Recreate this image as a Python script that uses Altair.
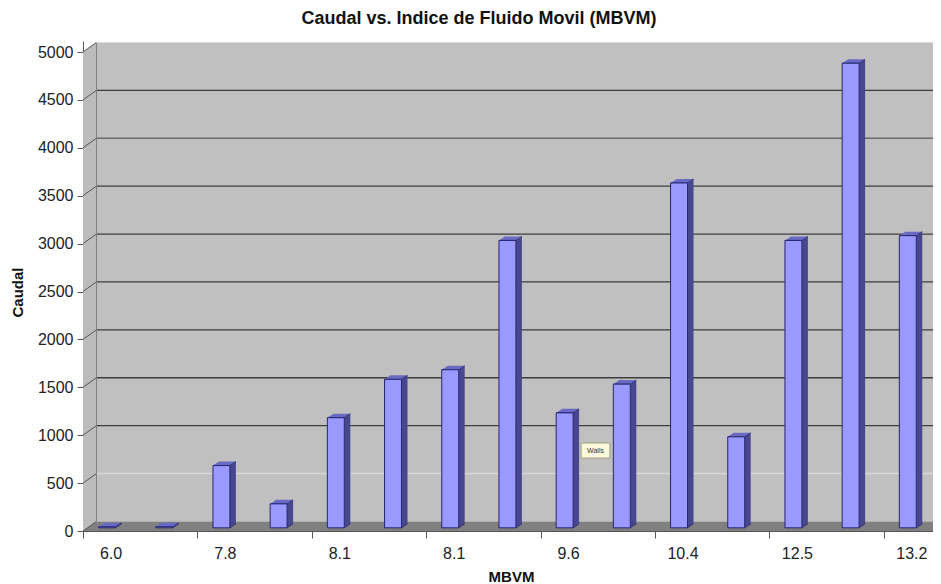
import altair as alt
import pandas as pd

# ---- values
slots = list(range(15))
caudal = [10, 10, 650, 250, 1150, 1550, 1650, 3000, 1200, 1500, 3600, 950, 3000, 4850, 3050]
tick_slots = [0, 2, 4, 6, 8, 10, 12, 14]
tick_labels = ["6.0", "7.8", "8.1", "8.1", "9.6", "10.4", "12.5", "13.2"]
grid_values = [500, 1000, 1500, 2000, 2500, 3000, 3500, 4000, 4500]
grid_colors = ["#d8d8d8", "#3c3c3c", "#3c3c3c", "#3c3c3c", "#3c3c3c", "#3c3c3c", "#3c3c3c", "#6a6a6a", "#3c3c3c"]

# ---- pseudo-3D geometry, in data units
XMAX, YMAX = 850 / 57.2, 5115.0
WALL_DX, WALL_DY = 0.236, 100.0
BAR_SHIFT, BAR_HALF = 0.42, 0.148
BAR_DX, BAR_DY = 0.105, 42.0
BAR_BASE = 33.0

x_scale = alt.Scale(domain=[0, XMAX], nice=False, zero=False)
y_scale = alt.Scale(domain=[0, YMAX], nice=False, zero=False)

label_expr = "[" + ",".join(f"'{t}'" for t in tick_labels) + "][datum.value/2]"

X = alt.X("x:Q", scale=x_scale, title="MBVM",
          axis=alt.Axis(values=tick_slots, grid=False, domainColor="#555555", tickColor="#555555",
                        tickSize=7, labelOffset=27.5, labelPadding=7, labelFontSize=16, labelFlush=False,
                        labelFont="Liberation Sans", labelColor="#222222", labelExpr=label_expr,
                        titleFont="Liberation Sans", titleFontSize=15, titleFontWeight="bold",
                        titleColor="#111111", titleX=428, titleY=50, titleBaseline="alphabetic"))
Y = alt.Y("y:Q", scale=y_scale, title="Caudal",
          axis=alt.Axis(values=[0] + grid_values + [5000], grid=False, domainColor="#555555",
                        tickColor="#555555", tickSize=6, labelPadding=4, labelFontSize=16, format="d",
                        labelFont="Liberation Sans", labelColor="#222222",
                        titleFont="Liberation Sans", titleFontSize=15, titleFontWeight="bold",
                        titleColor="#111111", titleX=-61, titleY=251, titleBaseline="alphabetic"))

# walls and floor
left_wall = pd.DataFrame({"x": [0, WALL_DX], "y": [0, WALL_DY], "y2": [5000, 5000 + WALL_DY]})
back_wall = pd.DataFrame({"x": [WALL_DX, XMAX], "y": [WALL_DY, WALL_DY], "y2": [5000 + WALL_DY] * 2})
floor = pd.DataFrame({"x": [0, WALL_DX, XMAX], "y": [0, 0, 0], "y2": [0, WALL_DY, WALL_DY]})

def area(df, color, **kw):
    return alt.Chart(df).mark_area(color=color, opacity=1, **kw).encode(x=X, y=Y, y2="y2:Q")

walls = [
    area(left_wall, "#bcbcbc"),
    area(back_wall, "#c0c0c0"),
    area(floor, "#808080"),
]

# grid lines on the back wall and slanted ones on the left wall
grid_df = pd.DataFrame({"x": WALL_DX, "x2": XMAX, "y": [v + WALL_DY for v in grid_values], "c": grid_colors})
grid = alt.Chart(grid_df).mark_rule(strokeWidth=1.3).encode(
    x=X, x2="x2:Q", y=Y, color=alt.Color("c:N", scale=None))
slant_df = pd.DataFrame({"x": 0.0, "x2": WALL_DX, "y": grid_values + [5000], "y2": [v + WALL_DY for v in grid_values + [5000]]})
slant = alt.Chart(slant_df).mark_rule(strokeWidth=1, color="#555555").encode(x=X, x2="x2:Q", y=Y, y2="y2:Q")
edges_df = pd.DataFrame({"x": [WALL_DX, WALL_DX], "x2": [WALL_DX, XMAX], "y": [WALL_DY, 5000 + WALL_DY], "y2": [5000 + WALL_DY, 5000 + WALL_DY], "c": ["#808080", "#dddddd"]})
edges = alt.Chart(edges_df).mark_rule(strokeWidth=1).encode(x=X, x2="x2:Q", y=Y, y2="y2:Q", color=alt.Color("c:N", scale=None))
floor_edge = alt.Chart(pd.DataFrame({"x": [0.0], "x2": [WALL_DX], "y": [0.0], "y2": [WALL_DY]})).mark_rule(color="#555555").encode(x=X, x2="x2:Q", y=Y, y2="y2:Q")

# bars: side, top and front faces
side_rows, top_rows, front_rows = [], [], []
for i, v in zip(slots, caudal):
    c = i + BAR_SHIFT
    l, r = c - BAR_HALF, c + BAR_HALF
    base, top = BAR_BASE, BAR_BASE + v
    side_rows += [
        {"i": i, "x": r, "y": base, "y2": top},
        {"i": i, "x": r + BAR_DX, "y": base + BAR_DY, "y2": top + BAR_DY},
    ]
    top_rows += [
        {"i": i, "x": l, "y": top, "y2": top},
        {"i": i, "x": l + BAR_DX, "y": top, "y2": top + BAR_DY},
        {"i": i, "x": r, "y": top, "y2": top + BAR_DY},
        {"i": i, "x": r + BAR_DX, "y": top + BAR_DY, "y2": top + BAR_DY},
    ]
    front_rows.append({"x": l, "x2": r, "y": base, "y2": top})

stroke = "#26266e"
side = alt.Chart(pd.DataFrame(side_rows)).mark_area(color="#47478f", opacity=1, line={"color": stroke, "strokeWidth": 0.8}).encode(
    x=X, y=Y, y2="y2:Q", detail="i:N")
top_face = alt.Chart(pd.DataFrame(top_rows)).mark_area(color="#6a6ac4", opacity=1, line={"color": stroke, "strokeWidth": 0.8}).encode(
    x=X, y=Y, y2="y2:Q", detail="i:N")
front = alt.Chart(pd.DataFrame(front_rows)).mark_rect(color="#9999ff", stroke=stroke, strokeWidth=1).encode(
    x=X, x2="x2:Q", y=Y, y2="y2:Q")

# "Walls" tooltip
tip_box = alt.Chart(pd.DataFrame({"x": [8.71], "x2": [9.21], "y": [762.0], "y2": [918.0]})).mark_rect(
    color="#fbfbdc", stroke="#888866", strokeWidth=0.7).encode(x=X, x2="x2:Q", y=Y, y2="y2:Q")
tip_text = alt.Chart(pd.DataFrame({"x": [8.96], "y": [840.0], "t": ["Walls"]})).mark_text(
    fontSize=7, font="Liberation Sans", color="#333333").encode(x=X, y=Y, text="t:N")

chart = alt.layer(*walls, grid, slant, edges, floor_edge, side, top_face, front, tip_box, tip_text).properties(
    width=850, height=490,
    title=alt.TitleParams("Caudal vs. Indice de Fluido Movil (MBVM)", font="Liberation Sans", fontSize=18,
                          fontWeight="bold", color="#111111", anchor="middle", dx=-29, offset=13),
    padding={"left": 75, "top": 33, "right": 0, "bottom": 52},
    autosize=alt.AutoSizeParams(type="none"),
    background="white",
).configure_view(stroke=None)

chart.save("out.html", embed_options={"renderer": "svg", "actions": False})
